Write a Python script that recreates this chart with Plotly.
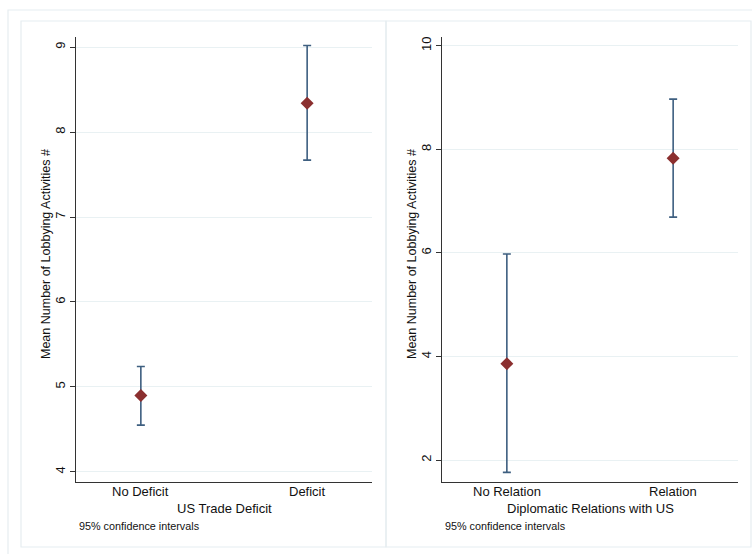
import plotly.graph_objects as go

# Group means with 95% confidence bounds
deficit_cats = ["No Deficit", "Deficit"]
deficit_mean = [4.90, 8.34]
deficit_lo = [4.55, 7.67]
deficit_hi = [5.24, 9.02]

relation_cats = ["No Relation", "Relation"]
relation_mean = [3.86, 7.83]
relation_lo = [1.76, 6.69]
relation_hi = [5.98, 8.97]

left_ticks = [4, 5, 6, 7, 8, 9]
right_ticks = [2, 4, 6, 8, 10]

W, H = 752, 554
FONT = "Liberation Sans, Arial, Helvetica, sans-serif"
MARKER = "#8b2f2f"
BAR = "#3e5f80"
GRID = "#e9f1f3"
AXIS = "#333333"
FRAME = "#e6edf1"
TXT = "#111111"


def px(x):
    return x / W


def py(y):
    return 1 - y / H


def ci_trace(cats, mean, lo, hi, xa, ya):
    xs = list(range(len(cats)))
    plus = [h - m for h, m in zip(hi, mean)]
    minus = [m - l for m, l in zip(mean, lo)]
    return go.Scatter(
        x=xs, y=mean, mode="markers", xaxis=xa, yaxis=ya,
        marker=dict(symbol="diamond", size=10, color=MARKER),
        error_y=dict(type="data", symmetric=False, array=plus, arrayminus=minus,
                     color=BAR, thickness=1.6, width=4),
        showlegend=False, hoverinfo="skip",
    )


fig = go.Figure()
fig.add_trace(ci_trace(deficit_cats, deficit_mean, deficit_lo, deficit_hi, "x", "y"))
fig.add_trace(ci_trace(relation_cats, relation_mean, relation_lo, relation_hi, "x2", "y2"))

ydom = [py(482), py(37)]
xcommon = dict(range=[-0.39, 1.39], showgrid=False, zeroline=False, showline=True,
               linecolor=AXIS, linewidth=1, ticks="", showticklabels=False,
               fixedrange=True)
ycommon = dict(showgrid=True, gridcolor=GRID, gridwidth=1, zeroline=False, showline=True,
               linecolor=AXIS, linewidth=1, ticks="outside", ticklen=5, tickcolor=AXIS,
               tickangle=-90, tickfont=dict(family=FONT, size=13, color=TXT),
               domain=ydom, fixedrange=True)

fig.update_layout(
    width=W, height=H, margin=dict(l=0, r=0, t=0, b=0),
    paper_bgcolor="white", plot_bgcolor="white",
    font=dict(family=FONT, color=TXT),
    xaxis=dict(xcommon, domain=[px(76), px(372)], anchor="y"),
    yaxis=dict(ycommon, range=[3.88, 9.12], tickvals=left_ticks, anchor="x"),
    xaxis2=dict(xcommon, domain=[px(442), px(738)], anchor="y2"),
    yaxis2=dict(ycommon, range=[1.575, 10.17], tickvals=right_ticks, anchor="x2"),
)

# Panel frames
shapes = [
    dict(type="rect", xref="paper", yref="paper", x0=px(8), x1=px(760), y0=py(560), y1=py(10),
         line=dict(color=FRAME, width=1.2), fillcolor="rgba(0,0,0,0)", layer="below"),
    dict(type="rect", xref="paper", yref="paper", x0=px(21), x1=px(386), y0=py(547), y1=py(21),
         line=dict(color=FRAME, width=1.2), fillcolor="rgba(0,0,0,0)", layer="below"),
    dict(type="rect", xref="paper", yref="paper", x0=px(386), x1=px(751), y0=py(547), y1=py(21),
         line=dict(color=FRAME, width=1.2), fillcolor="rgba(0,0,0,0)", layer="below"),
]
fig.update_layout(shapes=shapes)

ytitle = "Mean Number of Lobbying Activities #"
ann = []
panels = [(76, 372, "x", deficit_cats, "US Trade Deficit"),
          (442, 738, "x2", relation_cats, "Diplomatic Relations with US")]
for ax_left, ax_right, xref, cats, xtitle in panels:
    # category labels under the x axis
    for i, c in enumerate(cats):
        ann.append(dict(text=c, x=i, y=py(491), xref=xref, yref="paper",
                        showarrow=False, xanchor="center", yanchor="middle",
                        font=dict(family=FONT, size=13, color=TXT)))
    ann.append(dict(text=ytitle, x=px(ax_left - 30), y=py(254),
                    xref="paper", yref="paper", textangle=-90, showarrow=False,
                    xanchor="center", yanchor="middle",
                    font=dict(family=FONT, size=12.5, color=TXT)))
    ann.append(dict(text=xtitle, x=px((ax_left + ax_right) / 2), y=py(508),
                    xref="paper", yref="paper", showarrow=False,
                    xanchor="center", yanchor="middle",
                    font=dict(family=FONT, size=13, color=TXT)))
    ann.append(dict(text="95% confidence intervals", x=px(ax_left + 1), y=py(526),
                    xref="paper", yref="paper", showarrow=False,
                    xanchor="left", yanchor="middle",
                    font=dict(family=FONT, size=10.8, color=TXT)))
fig.update_layout(annotations=ann)

fig.write_html("out.html")
